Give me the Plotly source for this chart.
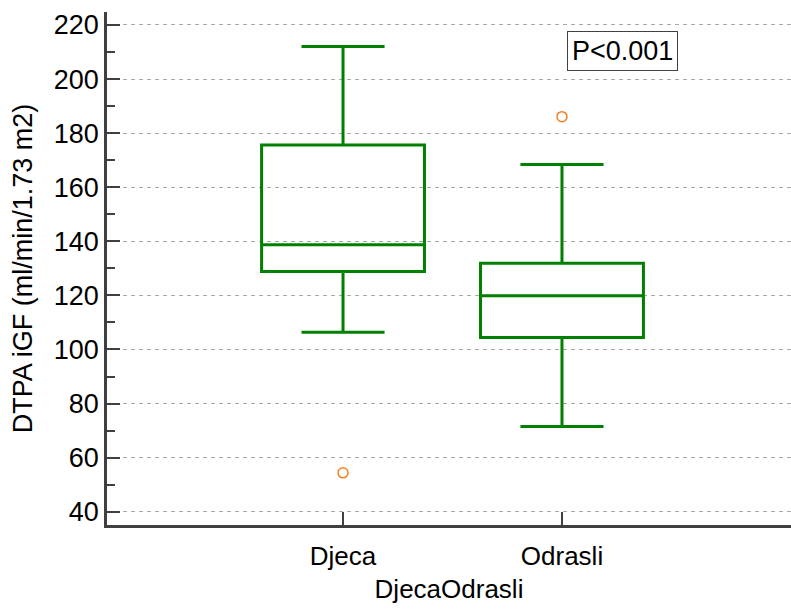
import plotly.graph_objects as go

categories = ["Djeca", "Odrasli"]
cat_pos = [0, 1]
q1 = [128.8, 104.4]
median = [138.7, 119.9]
q3 = [175.6, 131.9]
lower_whisker = [106.4, 71.5]
upper_whisker = [212.0, 168.4]
outlier_cat = [0, 1]
outlier_val = [54.4, 186.1]
y_ticks = [40, 60, 80, 100, 120, 140, 160, 180, 200, 220]

FONT = "Liberation Sans, Arial, sans-serif"
GREEN = "#008000"
AXIS = "#404040"

fig = go.Figure()
for i in range(len(categories)):
    fig.add_trace(go.Box(
        x=[cat_pos[i]], q1=[q1[i]], median=[median[i]], q3=[q3[i]],
        lowerfence=[lower_whisker[i]], upperfence=[upper_whisker[i]],
        width=0.744, whiskerwidth=0.51,
        line=dict(color=GREEN, width=3), fillcolor="rgba(255,255,255,0)",
        boxpoints=False, showlegend=False, hoverinfo="skip",
    ))

fig.add_trace(go.Scatter(
    x=outlier_cat, y=outlier_val, mode="markers",
    marker=dict(symbol="circle-open", size=10, color="#f57f22", line=dict(width=1.5, color="#f57f22")),
    showlegend=False, hoverinfo="skip",
))

fig.add_annotation(
    text="P<0.001", xref="paper", yref="paper", x=0.754, y=0.9246,
    xanchor="center", yanchor="middle", showarrow=False,
    font=dict(family=FONT, size=27, color="black"),
    bordercolor=AXIS, borderwidth=1, borderpad=4, bgcolor="white",
)

fig.update_layout(
    width=791, height=610,
    margin=dict(l=107, r=0, t=12, b=85),
    paper_bgcolor="white", plot_bgcolor="white",
    font=dict(family=FONT, size=26, color="black"),
)

fig.update_xaxes(
    range=[-1.078, 2.046], tickvals=cat_pos, ticktext=categories,
    showgrid=False, zeroline=False,
    showline=True, linecolor=AXIS, linewidth=2.5,
    ticks="inside", ticklen=13, tickwidth=2, tickcolor=AXIS,
    tickfont=dict(family=FONT, size=26, color="black"),
    ticklabelstandoff=6,
    title=dict(text="DjecaOdrasli", font=dict(family=FONT, size=26, color="black"), standoff=10),
    automargin=False,
)

fig.update_yaxes(
    range=[35.1, 224.8], tickvals=y_ticks,
    showgrid=True, gridcolor="#a8a8a8", gridwidth=1, griddash="4px,4px",
    zeroline=False,
    showline=True, linecolor=AXIS, linewidth=2.5,
    ticks="inside", ticklen=13, tickwidth=2, tickcolor=AXIS,
    minor=dict(dtick=10, tick0=30, ticks="inside", ticklen=8, tickwidth=1.5, tickcolor=AXIS, showgrid=False),
    tickfont=dict(family=FONT, size=27, color="black"),
    title=dict(text="DTPA iGF (ml/min/1.73 m2)", font=dict(family=FONT, size=27, color="black"), standoff=14),
    automargin=False,
)

fig.write_html("out.html")
